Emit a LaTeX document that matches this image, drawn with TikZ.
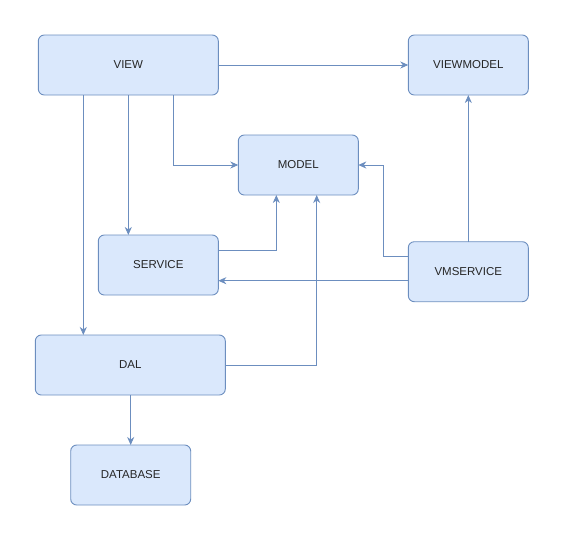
\documentclass[tikz,border=0pt]{standalone}
\usepackage{xcolor}
\usepackage{fontspec}
\setmainfont{Liberation Sans}
\usepackage{tikz}
\usetikzlibrary{arrows.meta}
\definecolor{boxfill}{RGB}{218, 232, 252}
\definecolor{boxline}{RGB}{108, 142, 191}

\begin{document}
\begin{tikzpicture}[x=1pt, y=-1pt,
    layer/.style={draw=boxline, fill=boxfill, rounded corners=6pt, line width=0.9pt,
      minimum height=60pt, inner sep=0pt, outer sep=0pt,
      font=\fontsize{11.5}{13}\selectfont, text=black!85},
    link/.style={draw=boxline, line width=0.9pt,
      -{Stealth[length=8pt, width=7pt, inset=2.5pt]}}]
      % fixed canvas
      \useasboundingbox (0,0) rectangle (564,541);
      % layers
      \node[layer, minimum width=180pt] (view) at (128.3, 65) {VIEW};
      \node[layer, minimum width=120pt] (viewmodel) at (468.3, 65) {VIEWMODEL};
      \node[layer, minimum width=120pt] (model) at (298.3, 165) {MODEL};
      \node[layer, minimum width=120pt] (service) at (158.3, 265) {SERVICE};
      \node[layer, minimum width=120pt] (vmservice) at (468.3, 271.7) {VMSERVICE};
      \node[layer, minimum width=190pt] (dal) at (130.3, 365) {DAL};
      \node[layer, minimum width=120pt] (database) at (130.7, 475) {DATABASE};
      % view links
      \draw[link] (view.east) -- (viewmodel.west);
      \draw[link] (view.south -| 173.3,0) |- (model.west);
      \draw[link] (view.south) -- (service.north -| view.south);
      \draw[link] (view.south -| 83.3,0) -- (dal.north -| 83.3,0);
      % links into model
      \draw[link] (service.east |- 0,250) -| (model.south -| 276.3,0);
      \draw[link] (dal.east) -| (model.south -| 316.7,0);
      \draw[link] (vmservice.west |- 0,256) -| (383.3,165) -- (model.east);
      % vmservice links
      \draw[link] (vmservice.north) -- (viewmodel.south);
      \draw[link] (vmservice.west |- 0,280.7) -- (service.east |- 0,280.7);
      % storage
      \draw[link] (dal.south -| database.north) -- (database.north);
    \end{tikzpicture}
\end{document}
